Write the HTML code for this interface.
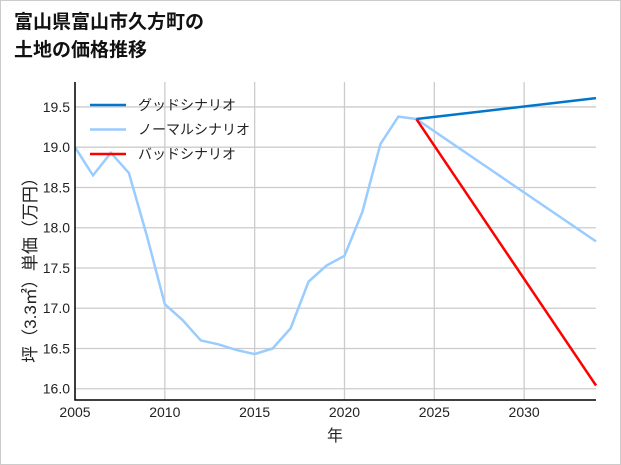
<!DOCTYPE html>
<html><head><meta charset="utf-8"><style>
body{margin:0;background:#fff;}
svg{display:block;font-family:"Liberation Sans","Noto Sans CJK JP",sans-serif;}
</style></head><body>
<svg width="621" height="465">
<rect x="0.5" y="0.5" width="620" height="464" fill="#fff" stroke="#ccc"/>
<text x="14" y="28" font-size="19" font-weight="bold" fill="#111">富山県富山市久方町の</text>
<text x="14" y="56" font-size="19" font-weight="bold" fill="#111">土地の価格推移</text>
<g id="grid"></g><g id="series"></g><g id="axes"></g><g id="legend"></g>
<text x="335" y="441" font-size="16" text-anchor="middle" fill="#222">年</text>
<text transform="translate(36,266) rotate(-90)" font-size="17" text-anchor="middle" fill="#222">坪（3.3㎡）単価（万円）</text>
</svg>
<script>
const years=[2005,2006,2007,2008,2009,2010,2011,2012,2013,2014,2015,2016,2017,2018,2019,2020,2021,2022,2023,2024];
const normalHist=[19.0,18.65,18.93,18.68,17.9,17.05,16.85,16.6,16.55,16.48,16.43,16.5,16.75,17.33,17.53,17.65,18.2,19.04,19.38,19.35];
const projYears=[2024,2034];
const goodVals=[19.35,19.61];
const normalVals=[19.35,17.83];
const badVals=[19.35,16.04];
const xTicks=[2005,2010,2015,2020,2025,2030];
const yTicks=[16.0,16.5,17.0,17.5,18.0,18.5,19.0,19.5];
const L=75,R=596,T=82,B=400,x0=2005,x1=2034,y0=15.86,y1=19.81;
const X=v=>L+(v-x0)/(x1-x0)*(R-L);
const Y=v=>B-(v-y0)/(y1-y0)*(B-T);
const NS="http://www.w3.org/2000/svg";
function mk(p,t,a){const e=document.createElementNS(NS,t);for(const k in a)e.setAttribute(k,a[k]);p.appendChild(e);return e;}
const grid=document.getElementById('grid'),ax=document.getElementById('axes'),se=document.getElementById('series'),lg=document.getElementById('legend');
xTicks.forEach(t=>{const l=mk(grid,'line',{x1:X(t),x2:X(t),y1:T,y2:B,stroke:'#ccc','stroke-width':1.3});


const s=mk(ax,'text',{x:X(t),y:B+17,'font-size':14,'text-anchor':'middle',fill:'#222'});s.textContent=t;

});
yTicks.forEach(t=>{const l=mk(grid,'line',{x1:L,x2:R,y1:Y(t),y2:Y(t),stroke:'#ccc','stroke-width':1.3});


const s=mk(ax,'text',{x:L-5,y:Y(t)+5,'font-size':14,'text-anchor':'end',fill:'#222'});s.textContent=t.toFixed(1);

});
const a1=mk(ax,'path',{d:`M${L},${T}V${B}H${R}`,fill:'none',stroke:'#000','stroke-width':1.5});


function line(xs,vs,c,n){const p=mk(se,'polyline',{points:xs.map((v,i)=>X(v)+','+Y(vs[i])).join(' '),fill:'none',stroke:c,'stroke-width':2.5});

}
line(years,normalHist,'#99ccff','normal-history-line');
line(projYears,normalVals,'#99ccff','normal-scenario-line');
line(projYears,badVals,'#ff0000','bad-scenario-line');
line(projYears,goodVals,'#0077cc','good-scenario-line');
[['グッドシナリオ','#0077cc'],['ノーマルシナリオ','#99ccff'],['バッドシナリオ','#ff0000']].forEach((d,i)=>{
const y=105+i*24.5;
const l=mk(lg,'line',{x1:90,x2:126,y1:y,y2:y,stroke:d[1],'stroke-width':2.5});


const t=mk(lg,'text',{x:138,y:y+5,'font-size':14,fill:'#222'});t.textContent=d[0];

});
</script>
</body></html>
